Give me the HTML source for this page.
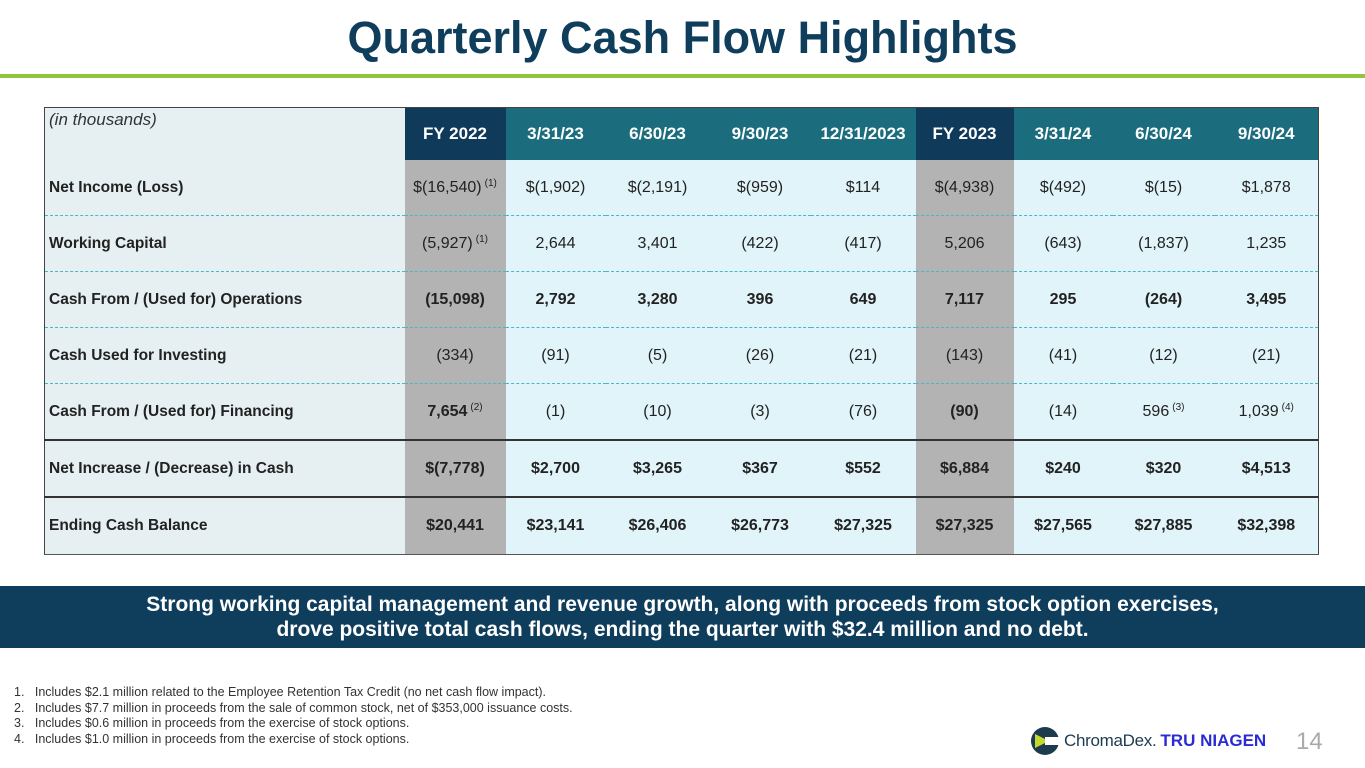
<!DOCTYPE html>
<html><head><meta charset="utf-8"><style>
body{margin:0;width:1365px;height:768px;background:#fff;position:relative;overflow:hidden;font-family:"Liberation Sans",Arial,sans-serif}
.title{position:absolute;top:12px;left:0;width:1365px;text-align:center;font-size:45px;font-weight:bold;color:#0f3d5c}
.rule{position:absolute;top:74px;left:0;width:1365px;height:4px;background:#8dc63f}
table{position:absolute;left:44px;top:107px;border-collapse:collapse;table-layout:fixed;width:1274px;font-size:16px;color:#222}
td,th{padding:0;text-align:center;background:#e1f4fa}
th{height:52px;color:#fff;font-weight:bold;background:#1b6d7d;vertical-align:middle;font-size:17px}
th.fy{background:#0f3a5a}
th.lab{background:#e6f0f3;color:#333;font-weight:normal;font-style:italic;text-align:left;vertical-align:top;padding:2px 0 0 4px;font-size:17px;height:50px}
td{height:55px;border-bottom:1px dashed #4ab6c8}
td.lab{text-align:left;padding-left:4px;font-weight:bold;background:#e6f0f3;font-size:15.5px}
td.g{background:#b3b3b3}
tr.b td{font-weight:bold}
tr.s td{border-bottom:2px solid #333;height:55px}
tr.last td{border-bottom:1px solid #555;height:56px}
table{border:1px solid #444}
sup{font-size:10px;vertical-align:6px;margin-left:3px}
.banner{position:absolute;left:0;top:586px;width:1365px;height:62px;background:#0f3d5c;color:#fff;font-weight:bold;font-size:21px;text-align:center;line-height:25px;padding-top:6px;box-sizing:border-box}
.notes{position:absolute;left:14px;top:685px;font-size:12.5px;color:#333;line-height:15.5px}
.logo{position:absolute;left:1030px;top:726px;height:30px;display:flex;align-items:center}
.pg{position:absolute;left:1296px;top:728px;font-size:24px;color:#aaa}
</style></head><body>
<div class="title">Quarterly Cash Flow Highlights</div>
<div class="rule"></div>
<table>
<colgroup><col style="width:360px"><col style="width:101px"><col style="width:100px"><col style="width:104px"><col style="width:101px"><col style="width:105px"><col style="width:98px"><col style="width:99px"><col style="width:102px"><col style="width:104px"></colgroup>
<tr><th class="lab">(in thousands)</th><th class="fy">FY 2022</th><th>3/31/23</th><th>6/30/23</th><th>9/30/23</th><th>12/31/2023</th><th class="fy">FY 2023</th><th>3/31/24</th><th>6/30/24</th><th>9/30/24</th></tr>
<tr><td class="lab">Net Income (Loss)</td><td class="g">$(16,540)<sup>(1)</sup></td><td>$(1,902)</td><td>$(2,191)</td><td>$(959)</td><td>$114</td><td class="g">$(4,938)</td><td>$(492)</td><td>$(15)</td><td>$1,878</td></tr>
<tr><td class="lab">Working Capital</td><td class="g">(5,927)<sup>(1)</sup></td><td>2,644</td><td>3,401</td><td>(422)</td><td>(417)</td><td class="g">5,206</td><td>(643)</td><td>(1,837)</td><td>1,235</td></tr>
<tr class="b"><td class="lab">Cash From / (Used for) Operations</td><td class="g">(15,098)</td><td>2,792</td><td>3,280</td><td>396</td><td>649</td><td class="g">7,117</td><td>295</td><td>(264)</td><td>3,495</td></tr>
<tr><td class="lab">Cash Used for Investing</td><td class="g">(334)</td><td>(91)</td><td>(5)</td><td>(26)</td><td>(21)</td><td class="g">(143)</td><td>(41)</td><td>(12)</td><td>(21)</td></tr>
<tr class="s"><td class="lab">Cash From / (Used for) Financing</td><td class="g"><b>7,654</b><sup>(2)</sup></td><td>(1)</td><td>(10)</td><td>(3)</td><td>(76)</td><td class="g"><b>(90)</b></td><td>(14)</td><td>596<sup>(3)</sup></td><td>1,039<sup>(4)</sup></td></tr>
<tr class="b s"><td class="lab">Net Increase / (Decrease) in Cash</td><td class="g">$(7,778)</td><td>$2,700</td><td>$3,265</td><td>$367</td><td>$552</td><td class="g">$6,884</td><td>$240</td><td>$320</td><td>$4,513</td></tr>
<tr class="b last"><td class="lab">Ending Cash Balance</td><td class="g">$20,441</td><td>$23,141</td><td>$26,406</td><td>$26,773</td><td>$27,325</td><td class="g">$27,325</td><td>$27,565</td><td>$27,885</td><td>$32,398</td></tr>
</table>
<div class="banner">Strong working capital management and revenue growth, along with proceeds from stock option exercises,<br>drove positive total cash flows, ending the quarter with $32.4 million and no debt.</div>
<div class="notes">
1.&nbsp;&nbsp; Includes $2.1 million related to the Employee Retention Tax Credit (no net cash flow impact).<br>
2.&nbsp;&nbsp; Includes $7.7 million in proceeds from the sale of common stock, net of $353,000 issuance costs.<br>
3.&nbsp;&nbsp; Includes $0.6 million in proceeds from the exercise of stock options.<br>
4.&nbsp;&nbsp; Includes $1.0 million in proceeds from the exercise of stock options.</div>
<div class="logo">
<svg width="30" height="30" viewBox="0 0 30 30"><circle cx="15" cy="15" r="14" fill="#1d3b4f"/><path d="M5 8 L19 15 L5 22 Z" fill="#c5d82e"/><path d="M15 11 h14 v8 h-14z" fill="#fff"/></svg>
<span style="font-size:17px;color:#1d3b4f;margin-left:4px;letter-spacing:-0.3px">ChromaDex.</span>
<span style="font-size:17px;color:#2b2bd6;font-weight:bold;margin-left:4px">TRU NIAGEN</span></div>
<div class="pg">14</div>
</body></html>
